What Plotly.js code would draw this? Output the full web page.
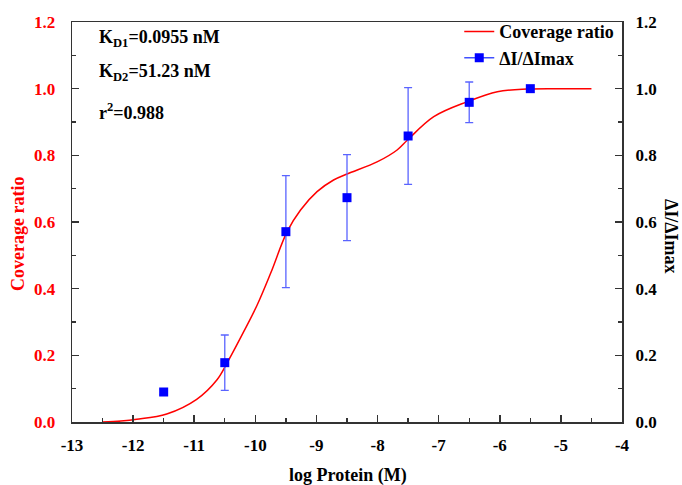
<!DOCTYPE html>
<html>
<head>
<meta charset="utf-8">
<script src="https://cdn.plot.ly/plotly-3.0.1.min.js"></script>
<style>html,body{margin:0;padding:0;background:#fff;}#chart{width:682px;height:485px;}</style>
</head>
<body>
<div id="chart"></div>
<script>
// Fitted curve (coverage ratio)
var fitX = [-12.5, -12.2, -11.94, -11.45, -10.96, -10.63, -10.46, -10.19, -9.97, -9.75, -9.48, -9.26, -8.99, -8.72, -8.5, -8.0, -7.68, -7.51, -7.08, -6.53, -6.04, -5.55, -5.0, -4.5];
var fitY = [0.0, 0.003, 0.008, 0.024, 0.068, 0.126, 0.178, 0.271, 0.351, 0.446, 0.571, 0.636, 0.691, 0.726, 0.744, 0.781, 0.816, 0.846, 0.916, 0.961, 0.991, 0.999, 1.0, 1.0];
// Measured dI/dImax
var dataX = [-11.5, -10.5, -9.5, -8.5, -7.5, -6.5, -5.5];
var dataY = [0.09, 0.178, 0.571, 0.673, 0.858, 0.959, 1.0];
var dataErr = [0.008, 0.083, 0.168, 0.129, 0.145, 0.061, 0.0];
// Tick labels
var xTickVals = [-13, -12, -11, -10, -9, -8, -7, -6, -5, -4];
var xTickText = ['-13', '-12', '-11', '-10', '-9', '-8', '-7', '-6', '-5', '-4'];

var serif = '"Liberation Serif", serif';
function f(size, color) { return {family: serif, size: size, color: color || '#000', weight: 'bold'}; }

var traces = [
  {
    x: fitX, y: fitY, type: 'scatter', mode: 'lines', name: 'Coverage ratio',
    line: {color: '#ff0000', width: 1.5, shape: 'spline'}, xaxis: 'x', yaxis: 'y'
  },
  {
    x: dataX, y: dataY, type: 'scatter', mode: 'markers', name: '\u0394I/\u0394Imax', showlegend: false,
    marker: {symbol: 'square', size: 9, color: '#0000ff'},
    error_y: {type: 'data', array: dataErr, visible: true, color: '#5a64ff', thickness: 1.3, width: 4},
    xaxis: 'x', yaxis: 'y2'
  },
  {
    x: [null], y: [null], type: 'scatter', mode: 'lines+markers', name: '\u0394I/\u0394Imax',
    line: {color: '#4050ff', width: 1.5}, marker: {symbol: 'square', size: 9, color: '#0000ff'},
    xaxis: 'x', yaxis: 'y2'
  }
];

var layout = {
  width: 682, height: 485,
  margin: {l: 72, r: 60, t: 22, b: 63},
  paper_bgcolor: '#ffffff', plot_bgcolor: '#ffffff',
  font: f(16),
  showlegend: true,
  legend: {
    x: 0.995, y: 1.022, xanchor: 'right', yanchor: 'top',
    bgcolor: 'rgba(0,0,0,0)', font: f(18),
    tracegroupgap: 0, itemwidth: 30
  },
  xaxis: {
    range: [-13, -4], tickmode: 'array', tickvals: xTickVals, ticktext: xTickText,
    ticks: 'inside', ticklen: 7, tickwidth: 1.5, tickcolor: '#333', ticklabelstandoff: 7,
    minor: {dtick: 0.5, ticks: 'inside', ticklen: 4, tickwidth: 1.3, tickcolor: '#333', showgrid: false},
    showline: true, linecolor: '#333', linewidth: 1.5, mirror: true,
    showgrid: false, zeroline: false,
    tickfont: f(17)
  },
  yaxis: {
    range: [0, 1.2], dtick: 0.2, tick0: 0, tickformat: '.1f', ticksuffix: '\u2002\u2009',
    ticks: 'inside', ticklen: 7, tickwidth: 1.5, tickcolor: '#333',
    minor: {dtick: 0.1, ticks: 'inside', ticklen: 4, tickwidth: 1.3, tickcolor: '#333', showgrid: false},
    showline: true, linecolor: '#333', linewidth: 1.5,
    showgrid: false, zeroline: false,
    tickfont: f(17, '#ff0000')
  },
  yaxis2: {
    range: [0, 1.2], dtick: 0.2, tick0: 0, tickformat: '.1f', overlaying: 'y', side: 'right', tickprefix: '\u2002',
    ticks: 'inside', ticklen: 7, tickwidth: 1.5, tickcolor: '#333',
    minor: {dtick: 0.1, ticks: 'inside', ticklen: 4, tickwidth: 1.3, tickcolor: '#333', showgrid: false},
    showline: true, linecolor: '#333', linewidth: 1.5,
    showgrid: false, zeroline: false,
    tickfont: f(17)
  },
  annotations: [
    {xref: 'paper', yref: 'paper', x: 0.045, y: 0.96, xanchor: 'left', yanchor: 'middle', showarrow: false,
     text: 'K<sub>D1</sub>=0.0955 nM', font: f(18)},
    {xref: 'paper', yref: 'paper', x: 0.045, y: 0.875, xanchor: 'left', yanchor: 'middle', showarrow: false,
     text: 'K<sub>D2</sub>=51.23 nM', font: f(18)},
    {xref: 'paper', yref: 'paper', x: 0.045, y: 0.775, xanchor: 'left', yanchor: 'middle', showarrow: false,
     text: 'r<sup>2</sup>=0.988', font: f(18)},
    {xref: 'paper', yref: 'paper', x: (18 - 72) / 550, y: 1 - (234 - 22) / 400, xanchor: 'center', yanchor: 'middle',
     showarrow: false, textangle: -90, text: 'Coverage ratio', font: f(18, '#ff0000')},
    {xref: 'paper', yref: 'paper', x: (671 - 72) / 550, y: 1 - (236 - 22) / 400, xanchor: 'center', yanchor: 'middle',
     showarrow: false, textangle: 90, text: '\u0394I/\u0394Imax', font: f(18)},
    {xref: 'paper', yref: 'paper', x: (348 - 72) / 550, y: 1 - (475 - 22) / 400, xanchor: 'center', yanchor: 'middle',
     showarrow: false, text: 'log Protein (M)', font: f(18)}
  ]
};

Plotly.newPlot('chart', traces, layout, {displayModeBar: false, staticPlot: true});
</script>
</body>
</html>
